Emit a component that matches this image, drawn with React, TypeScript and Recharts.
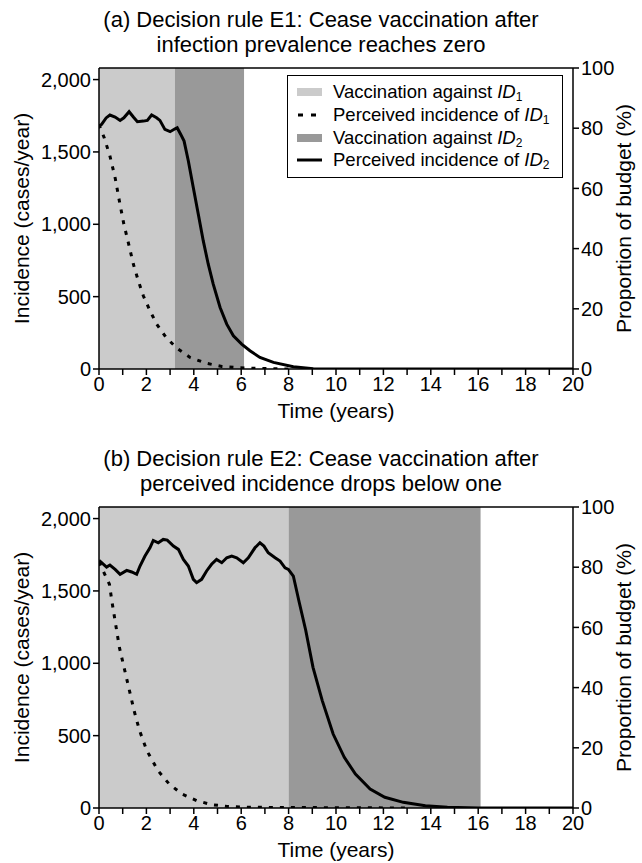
import React from "react";
import {
  ComposedChart,
  Line,
  Area,
  XAxis,
  YAxis,
  ReferenceLine,
  Label,
} from "recharts";

// axis ticks
const years = [0, 1, 2, 3, 4, 5, 6, 7, 8, 9, 10, 11, 12, 13, 14, 15, 16, 17, 18, 19, 20];
const incidenceTicks = [0, 500, 1000, 1500, 2000];
const budgetTicks = [0, 20, 40, 60, 80, 100];

// (a) perceived incidence of ID1 (dashed)
const timeA1 = [0, 0.22, 0.46, 0.68, 0.86, 1.05, 1.27, 1.45, 1.66, 1.87, 2.12, 2.43, 2.83, 3.28, 3.84, 4.54, 5.18, 5.88, 6.5, 8];
const incA1 = [1690, 1598, 1472, 1322, 1161, 1000, 851, 724, 609, 506, 414, 310, 218, 145, 80, 39, 18, 9, 5, 0];

// (a) perceived incidence of ID2 (solid)
const timeA2 = [0, 0.11, 0.3, 0.46, 0.68, 0.89, 1.05, 1.27, 1.45, 1.62, 1.87, 2.04, 2.22, 2.43, 2.57, 2.78, 3.0, 3.21, 3.3, 3.45, 3.59, 3.77, 3.98, 4.19, 4.4, 4.61, 4.82, 5.11, 5.39, 5.67, 6.02, 6.37, 6.79, 7.36, 8.2, 9.04, 10, 20];
const incA2 = [1679, 1690, 1735, 1755, 1741, 1718, 1736, 1778, 1741, 1709, 1713, 1718, 1755, 1736, 1718, 1656, 1640, 1660, 1667, 1621, 1575, 1437, 1253, 1069, 885, 724, 586, 425, 310, 230, 172, 126, 80, 46, 16, 2, 0, 0];

// (b) perceived incidence of ID1 (dashed)
const timeB1 = [0, 0.2, 0.44, 0.54, 0.86, 1.17, 1.48, 1.71, 2.02, 2.49, 2.96, 3.5, 4.12, 4.75, 5.37, 6.15, 13];
const incB1 = [1700, 1630, 1546, 1433, 1110, 892, 673, 535, 396, 258, 166, 97, 51, 23, 12, 5, 0];

// (b) perceived incidence of ID2 (solid)
const timeB2 = [0, 0.11, 0.32, 0.46, 0.68, 0.89, 1.17, 1.38, 1.59, 1.73, 1.94, 2.15, 2.29, 2.5, 2.71, 2.88, 3.14, 3.35, 3.56, 3.77, 3.98, 4.12, 4.33, 4.54, 4.75, 4.96, 5.18, 5.39, 5.6, 5.81, 6.09, 6.3, 6.58, 6.79, 6.96, 7.14, 7.43, 7.64, 7.85, 7.99, 8.2, 8.45, 8.72, 9.03, 9.42, 9.88, 10.35, 10.82, 11.44, 12.06, 12.84, 13.77, 14.7, 16, 20];
const incB2 = [1711, 1695, 1665, 1679, 1649, 1615, 1642, 1631, 1615, 1672, 1741, 1798, 1849, 1833, 1856, 1851, 1810, 1787, 1718, 1672, 1580, 1557, 1580, 1638, 1684, 1718, 1695, 1729, 1741, 1729, 1695, 1729, 1798, 1833, 1810, 1764, 1729, 1706, 1660, 1649, 1603, 1420, 1230, 972, 742, 511, 350, 235, 131, 74, 39, 16, 5, 0, 0];

// vaccination periods [start, end] in years, at this share of the budget (%)
const vaccA1 = [0, 3.2];
const vaccA2 = [3.2, 6.12];
const vaccB1 = [0, 8];
const vaccB2 = [8, 16.1];
const budgetShare = 100;

const titleA = ["(a) Decision rule E1: Cease vaccination after", "infection prevalence reaches zero"];
const titleB = ["(b) Decision rule E2: Cease vaccination after", "perceived incidence drops below one"];

const legendLabels = [
  ["Vaccination against ", "1"],
  ["Perceived incidence of ", "1"],
  ["Vaccination against ", "2"],
  ["Perceived incidence of ", "2"],
];

const LIGHT = "#cbcbcb";
const DARK = "#999999";
const FONT = "'Liberation Sans', Arial, sans-serif";
const TICK = { fontSize: 20, fill: "#000" };
const AXIS_TITLE = { fontSize: 21, fill: "#000", textAnchor: "middle" as const };

const zip = (t: number[], v: number[]) => t.map((x, i) => ({ t: x, v: v[i] }));
const period = (p: number[]) => p.map((x) => ({ t: x, b: budgetShare }));

const legendSymbol = (i: number) => {
  if (i === 0) return <rect x={0} y={1} width={25} height={8} fill={LIGHT} />;
  if (i === 2) return <rect x={0} y={1} width={25} height={8} fill={DARK} />;
  if (i === 1)
    return <line x1={1} y1={5} x2={25} y2={5} stroke="#000" strokeWidth={3} strokeDasharray="5 8" />;
  return <line x1={0} y1={5} x2={25} y2={5} stroke="#000" strokeWidth={3} />;
};

const LegendBox = () => (
  <div
    style={{
      position: "absolute",
      left: 287,
      top: 75,
      border: "1.5px solid #000",
      background: "#fff",
      padding: "5px 0 5px 9px",
      width: 276,
      boxSizing: "border-box",
      fontFamily: FONT,
      fontSize: 18.5,
      color: "#000",
    }}
  >
    {legendLabels.map((l, i) => (
      <div key={i} style={{ display: "flex", alignItems: "center", height: 22.7, whiteSpace: "nowrap" }}>
        <svg width={26} height={10} style={{ marginRight: 10, flex: "none" }}>
          {legendSymbol(i)}
        </svg>
        <span>
          {l[0]}
          <i>ID</i>
          <span style={{ fontSize: 12, position: "relative", top: 3 }}>{l[1]}</span>
        </span>
      </div>
    ))}
  </div>
);

type PanelProps = {
  title: string[];
  id1: { t: number; v: number }[];
  id2: { t: number; v: number }[];
  vacc1: number[];
  vacc2: number[];
  legend?: boolean;
};

const Panel = ({ title, id1, id2, vacc1, vacc2, legend }: PanelProps) => (
  <div style={{ position: "relative", width: 642, height: 440 }}>
    <div
      style={{
        position: "absolute",
        top: 7,
        left: 0,
        width: 642,
        textAlign: "center",
        fontSize: 22,
        lineHeight: "25px",
        fontFamily: FONT,
        color: "#000",
      }}
    >
      <div>{title[0]}</div>
      <div>{title[1]}</div>
    </div>
    <ComposedChart width={642} height={440} margin={{ top: 68, right: 0, bottom: 0, left: 0 }}>
      <XAxis
        type="number"
        dataKey="t"
        domain={[0, 20]}
        ticks={years}
        interval={0}
        allowDataOverflow
        tickFormatter={(v: number) => (v % 2 === 0 ? String(v) : "")}
        tick={TICK}
        tickSize={6}
        tickLine={{ stroke: "#000", strokeWidth: 1.5 }}
        axisLine={{ stroke: "#000", strokeWidth: 1.5 }}
        height={71}
      >
        <Label value="Time (years)" position="insideBottom" offset={22} style={AXIS_TITLE} />
      </XAxis>
      <YAxis
        yAxisId="left"
        domain={[0, 2080]}
        ticks={incidenceTicks}
        allowDataOverflow
        tickFormatter={(v: number) => v.toLocaleString("en-US")}
        tick={TICK}
        tickSize={6}
        tickLine={{ stroke: "#000", strokeWidth: 1.5 }}
        axisLine={{ stroke: "#000", strokeWidth: 1.5 }}
        width={99}
      >
        <Label value="Incidence (cases/year)" angle={-90} position="insideLeft" offset={22} style={AXIS_TITLE} />
      </YAxis>
      <YAxis
        yAxisId="right"
        orientation="right"
        domain={[0, 100]}
        allowDataOverflow
        ticks={budgetTicks}
        tick={TICK}
        tickSize={6}
        tickLine={{ stroke: "#000", strokeWidth: 1.5 }}
        axisLine={{ stroke: "#000", strokeWidth: 1.5 }}
        width={69}
      >
        <Label value="Proportion of budget (%)" angle={-90} position="insideRight" offset={18} style={AXIS_TITLE} />
      </YAxis>
      <Area
        yAxisId="right"
        data={period(vacc1)}
        dataKey="b"
        type="linear"
        fill={LIGHT}
        fillOpacity={1}
        stroke="none"
        dot={false}
        activeDot={false}
        isAnimationActive={false}
      />
      <Area
        yAxisId="right"
        data={period(vacc2)}
        dataKey="b"
        type="linear"
        fill={DARK}
        fillOpacity={1}
        stroke="none"
        dot={false}
        activeDot={false}
        isAnimationActive={false}
      />
      <ReferenceLine yAxisId="right" y={100} stroke="#000" strokeWidth={1.5} />
      <Line
        yAxisId="left"
        data={id1}
        dataKey="v"
        type="linear"
        stroke="#000"
        strokeWidth={3}
        strokeDasharray="4 7"
        dot={false}
        isAnimationActive={false}
      />
      <Line
        yAxisId="left"
        data={id2}
        dataKey="v"
        type="linear"
        stroke="#000"
        strokeWidth={3}
        dot={false}
        isAnimationActive={false}
      />
    </ComposedChart>
    {legend && <LegendBox />}
  </div>
);

export default function App() {
  return (
    <div
      style={{
        position: "absolute",
        left: 0,
        top: 0,
        width: 642,
        height: 863,
        background: "#fff",
        fontFamily: FONT,
      }}
    >
      <Panel title={titleA} id1={zip(timeA1, incA1)} id2={zip(timeA2, incA2)} vacc1={vaccA1} vacc2={vaccA2} legend />
      <div style={{ position: "absolute", top: 439, left: 0 }}>
        <Panel title={titleB} id1={zip(timeB1, incB1)} id2={zip(timeB2, incB2)} vacc1={vaccB1} vacc2={vaccB2} />
      </div>
    </div>
  );
}
